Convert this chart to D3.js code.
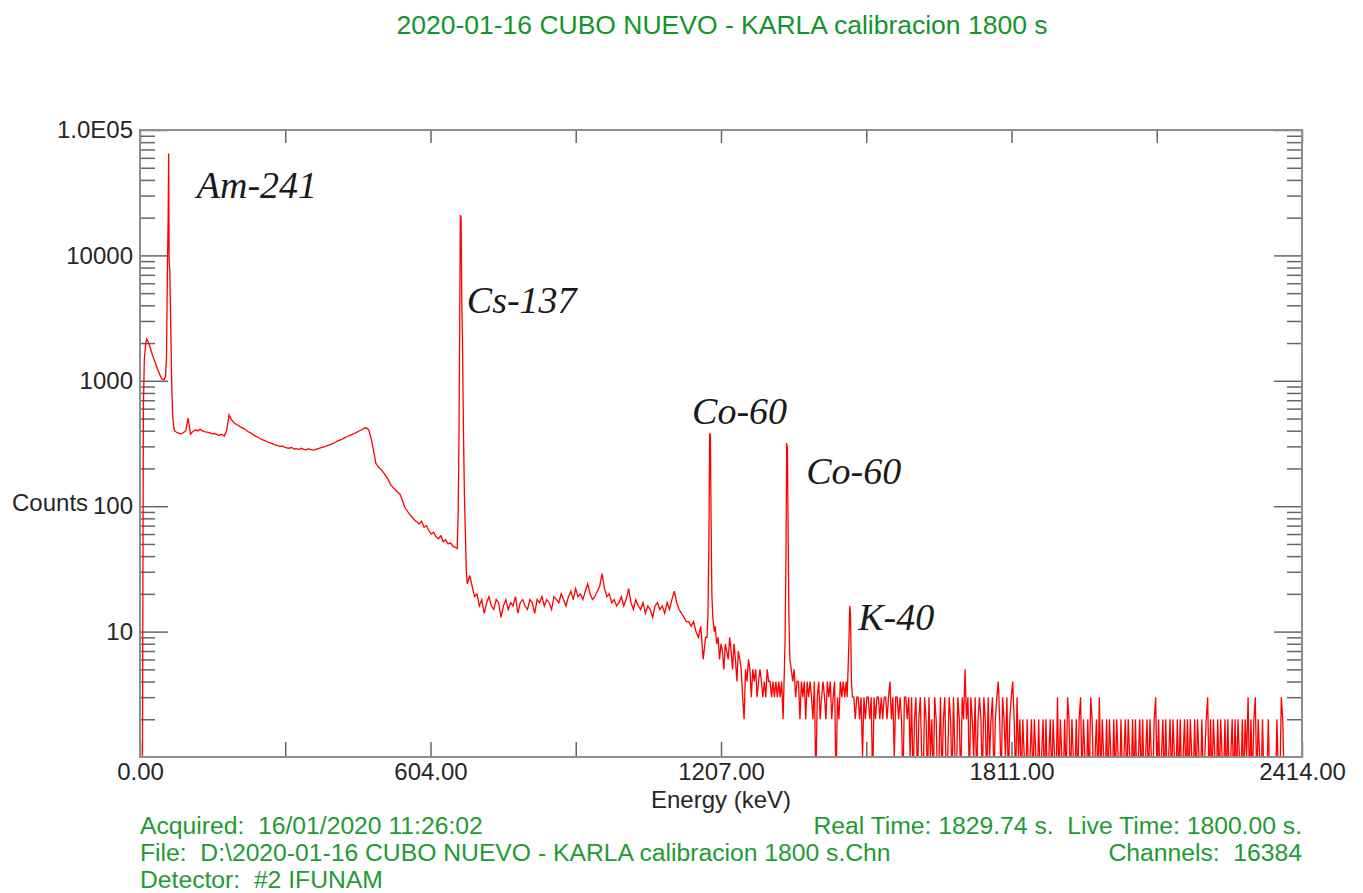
<!DOCTYPE html>
<html>
<head>
<meta charset="utf-8">
<script src="https://cdn.jsdelivr.net/npm/d3@7"></script>
<style>
  body { margin: 0; background: #fff; }
  svg { display: block; }
  text { white-space: pre; }
  .axis-text { font-family: "Liberation Sans", Arial, sans-serif; font-size: 24px; fill: #262626; }
  .info { font-family: "Liberation Sans", Arial, sans-serif; font-size: 24.7px; fill: #1e9b32; }
  .peak-label { font-family: "Liberation Serif", "Times New Roman", serif; font-style: italic; font-size: 38px; fill: #1a1a1a; }
</style>
</head>
<body>
<div id="chart"></div>
<script>
// ---------------------------------------------------------------
// data (energy in keV, counts per channel)
// ---------------------------------------------------------------
const titleText = "2020-01-16 CUBO NUEVO - KARLA calibracion 1800 s"
const xTickLabels = ["0.00", "604.00", "1207.00", "1811.00", "2414.00"]
const yTickLabels = ["10", "100", "1000", "10000", "1.0E05"]

// Am-241 region, explicit points
const amE = [0, 3, 5, 7, 9, 12, 14, 17, 21, 26, 31, 36, 42, 46, 50, 53, 55, 57, 58.5, 59.5, 60.5, 62, 64, 66, 68, 70, 72]
const amCounts = [0, 0, 0, 600, 1500, 2000, 2150, 2050, 1850, 1600, 1420, 1250, 1100, 1030, 1020, 1080, 1500, 8000, 20000, 65000, 9000, 7500, 2500, 900, 520, 430, 400]

// compton continuum below Cs-137, one value every 5 keV from 75 keV
const lowStart = 75, lowStep = 5
const lowCounts = [390, 382, 378, 385, 400, 505, 375, 395, 405, 400,
  410, 398, 392, 390, 385, 378, 380, 372, 368, 375,
  362, 400, 535, 490, 465, 448, 440, 425, 418, 405,
  392, 385, 372, 362, 355, 345, 338, 332, 325, 320,
  315, 308, 305, 300, 302, 296, 292, 290, 294, 286,
  288, 283, 290, 284, 281, 287, 282, 280, 284, 288,
  292, 296, 300, 305, 310, 316, 322, 330, 336, 342,
  352, 358, 366, 372, 380, 388, 398, 405, 418, 422,
  408, 350, 280, 220, 205, 198, 188, 176, 165, 150,
  142, 136, 130, 125, 112, 98, 92, 86, 82, 78,
  75, 72, 76, 68, 70, 64, 60, 62, 57, 55,
  58, 52, 54, 50, 51, 48, 47]

// Cs-137 photopeak
const csE = [659, 661, 662.5, 664, 665.5, 667, 668.5, 670, 672, 674, 676, 678, 680]
const csCounts = [46, 90, 300, 2200, 21000, 20000, 4200, 2000, 400, 120, 60, 30, 24]

// continuum between Cs-137 and Co-60, every 5 keV from 685 keV
const midStart = 685, midStep = 5
const midCounts = [28, 23, 19, 20, 16, 18, 14, 17, 19, 16,
  15, 18, 17, 13, 16, 18, 15, 17, 16, 19,
  14, 17, 18, 16, 15, 18, 17, 14, 18, 17,
  19, 16, 18, 17, 15, 19, 18, 17, 20, 18,
  16, 19, 21, 18, 22, 19, 20, 18, 21, 24,
  20, 18, 19, 21, 23, 29, 22, 19, 20, 17,
  18, 16, 17, 19, 16, 18, 22, 17, 15, 18,
  16, 15, 17, 14, 16, 15, 13, 16, 17, 15,
  16, 14, 17, 15, 18, 21, 17, 15, 14, 13,
  12, 12, 11, 12, 10, 9, 11, 6, 9]

// first Co-60 line
const coAE = [1178, 1180, 1182, 1183.5, 1185, 1186.5, 1188, 1190, 1193]
const coACounts = [9, 14, 60, 384, 360, 70, 20, 13, 10]

// between the Co-60 lines, every 3 keV from 1195 keV
const coGapStart = 1195, coGapStep = 3
const coGapCounts = [11, 8, 9, 6, 8, 7, 5, 8, 7, 6,
  9, 7, 5, 8, 6, 4, 7, 6, 5, 3,
  2, 5, 4, 6, 5, 3, 5, 4, 5, 3,
  4, 5, 4, 3, 4, 3, 5, 4, 4, 3,
  4, 3, 4, 3, 4, 3, 4, 2]

// second Co-60 line
const coBE = [1338, 1340, 1342, 1343.5, 1345, 1346.5, 1348, 1350, 1353]
const coBCounts = [4, 8, 40, 319, 290, 60, 14, 6, 5]

// between Co-60 and K-40, every 3 keV from 1356 keV
const preKStart = 1356, preKStep = 3
const preKCounts = [4, 5, 3, 4, 4, 2, 4, 3, 4, 2,
  4, 3, 4, 3, 2, 4, 0, 3, 4, 2,
  3, 4, 3, 2, 4, 3, 4, 2, 3, 4,
  0, 3, 2, 4, 3, 4, 3, 4]

// K-40 line
const kE = [1469, 1471, 1473, 1474.5, 1476, 1478, 1480]
const kCounts = [3, 5, 9, 16, 14, 4, 3]

// high energy tail, every 3 keV from 1483 keV
const tailStart = 1483, tailStep = 3
const tailCounts = [3, 2, 3, 3, 2, 3, 1, 3, 2, 3,
  3, 2, 3, 0, 3, 2, 3, 3, 2, 3,
  2, 3, 3, 2, 3, 4, 2, 3, 1, 3,
  3, 2, 3, 2, 0, 3, 3, 2, 3, 1,
  3, 0, 2, 3, 0, 2, 3, 1, 0, 3,
  2, 0, 3, 1, 2, 0, 3, 2, 0, 1,
  3, 0, 2, 3, 0, 1, 3, 2, 0, 3,
  1, 0, 3, 2, 0, 3, 2, 5, 2, 3,
  0, 3, 2, 1, 3, 0, 2, 3, 2, 0,
  3, 2, 0, 3, 1, 2, 3, 0, 2, 3,
  4, 2, 0, 3, 2, 1, 3, 0, 2, 3,
  4, 2, 0, 3, 1, 2, 0, 2, 1, 0,
  2, 0, 1, 2, 0, 2, 1, 0, 2, 0,
  1, 2, 0, 2, 0, 1, 2, 0, 2, 1,
  0, 3, 0, 2, 1, 0, 2, 0, 3, 2,
  0, 2, 1, 0, 2, 0, 2, 3, 0, 2,
  1, 0, 2, 0, 3, 2, 0, 1, 2, 0,
  3, 0, 2, 1, 0, 2, 0, 2, 1, 0,
  2, 0, 2, 1, 0, 2, 0, 1, 2, 0,
  2, 1, 0, 2, 0, 2, 0, 1, 2, 0,
  2, 0, 1, 2, 0, 2, 1, 0, 2, 3,
  0, 2, 0, 1, 2, 0, 2, 0, 1, 2,
  0, 2, 1, 0, 2, 0, 2, 0, 1, 2,
  0, 2, 0, 2, 1, 0, 2, 0, 2, 1,
  0, 2, 0, 1, 2, 3, 0, 2, 0, 2,
  1, 0, 2, 0, 2, 1, 0, 2, 0, 2,
  0, 1, 2, 0, 2, 0, 2, 1, 0, 2,
  0, 2, 1, 3, 0, 2, 0, 2, 3, 0,
  2, 1, 0, 2, 0, 1, 0, 2, 0, 1,
  0, 1, 0, 2, 0, 0, 3, 2, 0]
const endE = [2380, 2414]
const endCounts = [0, 0]

// peak annotations: text, energy where the text starts, count level of baseline
const peakNames = ["Am-241", "Cs-137", "Co-60", "Co-60", "K-40"]
const peakNameE = [118, 679, 1147, 1384, 1492]
const peakNameCounts = [28700, 3470, 453, 150, 10.3]

const infoLeft = ["Acquired:  16/01/2020 11:26:02",
  "File:  D:\\2020-01-16 CUBO NUEVO - KARLA calibracion 1800 s.Chn",
  "Detector:  #2 IFUNAM"]
const infoRight = ["Real Time: 1829.74 s.  Live Time: 1800.00 s.",
  "Channels:  16384"]

// ---------------------------------------------------------------
// note: "top" is taken by window.top, so the frame edges get a prefix
var width = 1363, height = 893
var plotLeft = 140, plotRight = 1302, plotTop = 130, plotBottom = 757
var frameColor = "#8e8e8e", tickColor = "#666"

var svg = d3.select("#chart").append("svg")
    .attr("width", width)
    .attr("height", height)

var x = d3.scaleLinear().domain([0, 2414]).range([plotLeft, plotRight])
var y = d3.scaleLog().domain([1, 1e5]).range([plotBottom, plotTop])

// title
svg.append("text")
    .attr("class", "info")
    .attr("x", 722).attr("y", 34)
    .attr("text-anchor", "middle")
    .style("font-size", "26.5px")
    .style("fill", "#12952a")
    .text(titleText)

// ---- y ticks (left and right, inward) ----
var yMajor = [10, 100, 1000, 10000, 100000]
var yMinor = []
for (var d = 1; d <= 10000; d *= 10)
  for (var k = 2; k <= 9; k++) yMinor.push(k * d)

function styleAxis(g) {
  g.attr("font-size", null).attr("font-family", null)
  g.select(".domain").remove()
  g.selectAll(".tick line").attr("stroke", tickColor).attr("stroke-width", 1.5)
  g.selectAll(".tick text").attr("class", "axis-text").attr("fill", null)
}

svg.append("g").attr("transform", "translate(" + plotLeft + ",0)")
  .call(d3.axisLeft(y).tickValues(yMinor).tickSize(-15).tickFormat(""))
  .call(styleAxis)
svg.append("g").attr("transform", "translate(" + plotRight + ",0)")
  .call(d3.axisRight(y).tickValues(yMinor).tickSize(-15).tickFormat(""))
  .call(styleAxis)
svg.append("g").attr("transform", "translate(" + plotRight + ",0)")
  .call(d3.axisRight(y).tickValues(yMajor).tickSize(-28).tickFormat(""))
  .call(styleAxis)
svg.append("g").attr("transform", "translate(" + plotLeft + ",0)")
  .call(d3.axisLeft(y).tickValues(yMajor).tickSize(-28).tickPadding(7)
        .tickFormat(function (v, i) { return yTickLabels[i] }))
  .call(styleAxis)

// ---- x ticks (bottom and top, inward) ----
var xTicks = d3.range(0, 9).map(function (i) { return 2414 * i / 8 })

svg.append("g").attr("transform", "translate(0," + plotTop + ")")
  .call(d3.axisTop(x).tickValues(xTicks).tickSize(-13).tickFormat(""))
  .call(styleAxis)
svg.append("g").attr("transform", "translate(0," + plotBottom + ")")
  .call(d3.axisBottom(x).tickValues(xTicks).tickSize(-15).tickPadding(6)
        .tickFormat(function (v, i) { return i % 2 == 0 ? xTickLabels[i / 2] : "" }))
  .call(styleAxis)

// axis titles
svg.append("text").attr("class", "axis-text")
    .attr("x", 721).attr("y", 808)
    .attr("text-anchor", "middle")
    .text("Energy (keV)")
svg.append("text").attr("class", "axis-text")
    .attr("x", 12).attr("y", 511)
    .text("Counts")

// ---- spectrum ----
function pairSeg(es, cs) { return es.map(function (e, i) { return {e: e, c: cs[i]} }) }
function gridSeg(start, step, cs) { return cs.map(function (c, i) { return {e: start + i * step, c: c} }) }

var spectrum = [].concat(
  pairSeg(amE, amCounts),
  gridSeg(lowStart, lowStep, lowCounts),
  pairSeg(csE, csCounts),
  gridSeg(midStart, midStep, midCounts),
  pairSeg(coAE, coACounts),
  gridSeg(coGapStart, coGapStep, coGapCounts),
  pairSeg(coBE, coBCounts),
  gridSeg(preKStart, preKStep, preKCounts),
  pairSeg(kE, kCounts),
  gridSeg(tailStart, tailStep, tailCounts),
  pairSeg(endE, endCounts)
)

svg.append("clipPath").attr("id", "plot-clip")
  .append("rect")
    .attr("x", plotLeft).attr("y", plotTop)
    .attr("width", plotRight - plotLeft).attr("height", plotBottom - plotTop)

var spectrumLine = d3.line()
    .x(function (d) { return x(d.e) })
    .y(function (d) { return y(Math.max(d.c, 0.6)) })

svg.append("path")
    .datum(spectrum)
    .attr("clip-path", "url(#plot-clip)")
    .attr("fill", "none")
    .attr("stroke", "#ff0000")
    .attr("stroke-width", 1.3)
    .attr("d", spectrumLine)

// frame
svg.append("rect")
    .attr("x", plotLeft).attr("y", plotTop)
    .attr("width", plotRight - plotLeft).attr("height", plotBottom - plotTop)
    .attr("fill", "none")
    .attr("stroke", frameColor)
    .attr("stroke-width", 2)

// peak names
svg.selectAll(".peak-label")
  .data(peakNames)
  .enter().append("text")
    .attr("class", "peak-label")
    .attr("x", function (d, i) { return x(peakNameE[i]) })
    .attr("y", function (d, i) { return y(peakNameCounts[i]) })
    .text(function (d) { return d })

// acquisition info
svg.selectAll(".info-left")
  .data(infoLeft)
  .enter().append("text")
    .attr("class", "info")
    .attr("x", plotLeft)
    .attr("y", function (d, i) { return 834 + i * 27 })
    .text(function (d) { return d })
svg.selectAll(".info-right")
  .data(infoRight)
  .enter().append("text")
    .attr("class", "info")
    .attr("text-anchor", "end")
    .attr("x", plotRight)
    .attr("y", function (d, i) { return 834 + i * 27 })
    .text(function (d) { return d })
</script>
</body>
</html>
